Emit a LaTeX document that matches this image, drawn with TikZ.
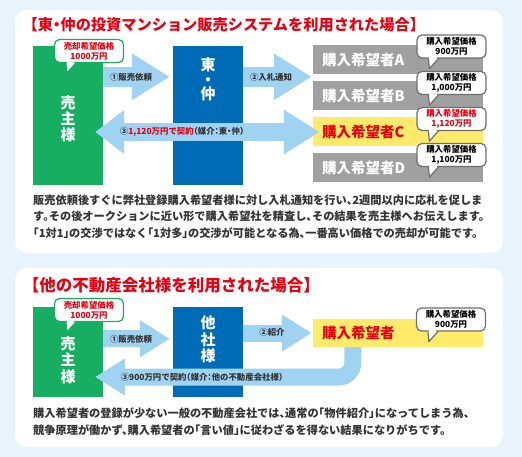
\documentclass[tikz,border=0pt]{standalone}
\usepackage{fontspec}
\setmainfont{Noto Sans CJK JP}[RawFeature=+halt]
\usetikzlibrary{arrows.meta,positioning,calc}
\definecolor{pagebg}{RGB}{232,243,252}
\definecolor{sellergreen}{RGB}{23,174,98}
\definecolor{agentblue}{RGB}{0,108,183}
\definecolor{arrowblue}{RGB}{160,211,241}
\definecolor{buyergray}{RGB}{160,160,160}
\definecolor{buyeryellow}{RGB}{255,235,105}
\definecolor{alertred}{RGB}{230,0,18}
\definecolor{tagline}{RGB}{110,110,110}
\definecolor{bodytext}{RGB}{51,51,51}

\begin{document}
\begin{tikzpicture}[x=1pt, y=-1pt,
    panel/.style={fill=white, rounded corners=12pt},
    party/.style={minimum width=70pt, inner sep=0pt},
    partyname/.style={font=\bfseries\fontsize{15pt}{16pt}\selectfont, text=white, align=center, inner sep=0pt},
    buyer/.style={fill=buyergray, text width=152pt, inner xsep=9pt, inner ysep=0pt, minimum height=29pt, align=left, text=white, font=\bfseries\fontsize{14.5pt}{16pt}\selectfont},
    pricetag/.style={draw=tagline, line width=1.2pt, fill=white, rounded corners=5pt, minimum width=69pt, minimum height=23pt, inner sep=0pt, align=center, text=black, font=\bfseries\fontsize{8.4pt}{10pt}\selectfont},
    tail/.style={line width=1.2pt, fill=white, line join=round},
    flow/.style={arrowblue, line width=20pt, -{Triangle[width=44pt, length=38pt]}},
    flowsmall/.style={arrowblue, line width=17pt, -{Triangle[width=35pt, length=30pt]}},
    dealflow/.style={arrowblue, line width=18pt, {Triangle[width=42pt, length=29pt]}-{Triangle[width=42pt, length=36pt]}},
    flowlabel/.style={font=\bfseries\fontsize{8.4pt}{10pt}\selectfont, text=bodytext, inner sep=0pt},
    title/.style={font=\bfseries\fontsize{15.2pt}{17pt}\selectfont, text=alertred, anchor=west, inner sep=0pt},
    body/.style={font=\bfseries\fontsize{11.2pt}{16.5pt}\selectfont, text=bodytext, anchor=north west, align=left, inner sep=0pt}
]
    % page and the two panels
    \fill[pagebg] (0,0) rectangle (522,457);
    \useasboundingbox (0,0) rectangle (522,457);
    \fill[panel] (15,10) rectangle (503,253);
    \fill[panel] (15,268) rectangle (503,447);

    % ---- upper panel
    \node[title] (titleA) at (30,25) {【東・仲の投資マンション販売システムを利用された場合】};
    \node[party, fill=sellergreen, minimum height=139pt] (seller) at (68,115.5) {};
    \node[party, fill=agentblue, minimum height=139pt] (agent) at (208,115.5) {};
    \node[partyname] (sellerName) at (68,119) {売\\主\\様};
    \node[partyname, font=\bfseries\fontsize{15pt}{14.5pt}\selectfont] (agentName) at (208,79.5) {東\\・\\仲};

    \node[buyer] (buyerA) at (398,60) {購入希望者A};
    \node[buyer] (buyerB) at (398,96) {購入希望者B};
    \node[buyer, fill=buyeryellow, text=alertred] (buyerC) at (398,132) {購入希望者C};
    \node[buyer] (buyerD) at (398,168) {購入希望者D};

    \draw[flow, shorten >=3pt] ([yshift=-31pt]seller.north east) -- ([yshift=-31pt]agent.north west);
    \draw[flow, shorten >=1pt] ([yshift=-31pt]agent.north east) -- ([yshift=-31pt]agent.north east -| buyerA.west);
    \draw[dealflow] ([xshift=-8pt]seller.east |- buyerC) -- ([xshift=7pt]buyerC.west);

    \node[flowlabel] (askLabel) at (131,77) {①販売依頼};
    \node[flowlabel] (bidLabel) at (271,77) {②入札通知};
    \node[flowlabel] (dealLabel) at (182,131.5) {③\textcolor{alertred}{1,120万円で契約}（媒介：東・仲）};

    \node[pricetag, draw=sellergreen, text=alertred] (sellerTag) at (89,51) {売却希望価格\\1000万円};
    \node[pricetag] (tagA) at (451.5,46.5) {購入希望価格\\900万円};
    \node[pricetag] (tagB) at (451.5,83) {購入希望価格\\1,000万円};
    \node[pricetag, text=alertred] (tagC) at (451.5,119) {購入希望価格\\1,120万円};
    \node[pricetag] (tagD) at (451.5,155) {購入希望価格\\1,100万円};

    \node[body] (noteA) at (33,194.5) {販売依頼後すぐに弊社登録購入希望者様に対し入札通知を行い、2週間以内に応札を促しま\\
        す。その後オークションに近い形で購入希望社を精査し、その結果を売主様へお伝えします。\\
        「1対1」の交渉ではなく「1対多」の交渉が可能となる為、一番高い価格での売却が可能です。};

    % ---- lower panel
    \node[title, font=\bfseries\fontsize{16.5pt}{18pt}\selectfont] (titleB) at (31,285) {【他の不動産会社様を利用された場合】};
    \node[party, fill=sellergreen, minimum height=90pt] (seller2) at (68,352) {};
    \node[party, fill=agentblue, minimum height=90pt] (agent2) at (208,352) {};
    \node[partyname, font=\bfseries\fontsize{15pt}{16.5pt}\selectfont] (sellerName2) at (68,360) {売\\主\\様};
    \node[partyname, font=\bfseries\fontsize{15pt}{16.5pt}\selectfont] (agentName2) at (208,339.5) {他\\社\\様};
    \node[buyer, fill=buyeryellow, text=alertred, minimum height=28pt] (buyer2) at (398,333) {購入希望者};

    \draw[flowsmall, shorten >=3pt] ([yshift=-32pt]seller2.north east) -- ([yshift=-32pt]agent2.north west);
    \draw[flowsmall, shorten >=1pt] (agent2.east |- buyer2) -- (buyer2.west);
    \coordinate (payback) at (95,377);
    \draw[flowsmall, rounded corners=14pt] ([xshift=40pt]buyer2.south west) |- (payback);

    \node[flowlabel] (askLabel2) at (131,339) {①販売依頼};
    \node[flowlabel] (introLabel) at (272,332) {②紹介};
    \node[flowlabel] (dealLabel2) at (202,377) {③900万円で契約（媒介：他の不動産会社様）};

    \node[pricetag, draw=sellergreen, text=alertred] (sellerTag2) at (89,310) {売却希望価格\\1000万円};
    \node[pricetag] (tagP) at (451,319.5) {購入希望価格\\900万円};

    \node[body] (noteB) at (33,407.5) {購入希望者の登録が少ない一般の不動産会社では、通常の「物件紹介」になってしまう為、\\
        競争原理が働かず、購入希望者の「言い値」に従わざるを得ない結果になりがちです。};

    % callout tails
    \foreach \tag/\edge in {sellerTag/sellergreen, sellerTag2/sellergreen, tagA/tagline, tagB/tagline, tagC/tagline, tagD/tagline, tagP/tagline}{
        \draw[tail, draw=\edge] ([xshift=12pt]\tag.south west) -- ++(1,10) -- ([xshift=22pt]\tag.south west);
        \fill[white] ([xshift=13pt,yshift=1.5pt]\tag.south west) rectangle ([xshift=20.4pt,yshift=-0.8pt]\tag.south west);
    }
\end{tikzpicture}
\end{document}
